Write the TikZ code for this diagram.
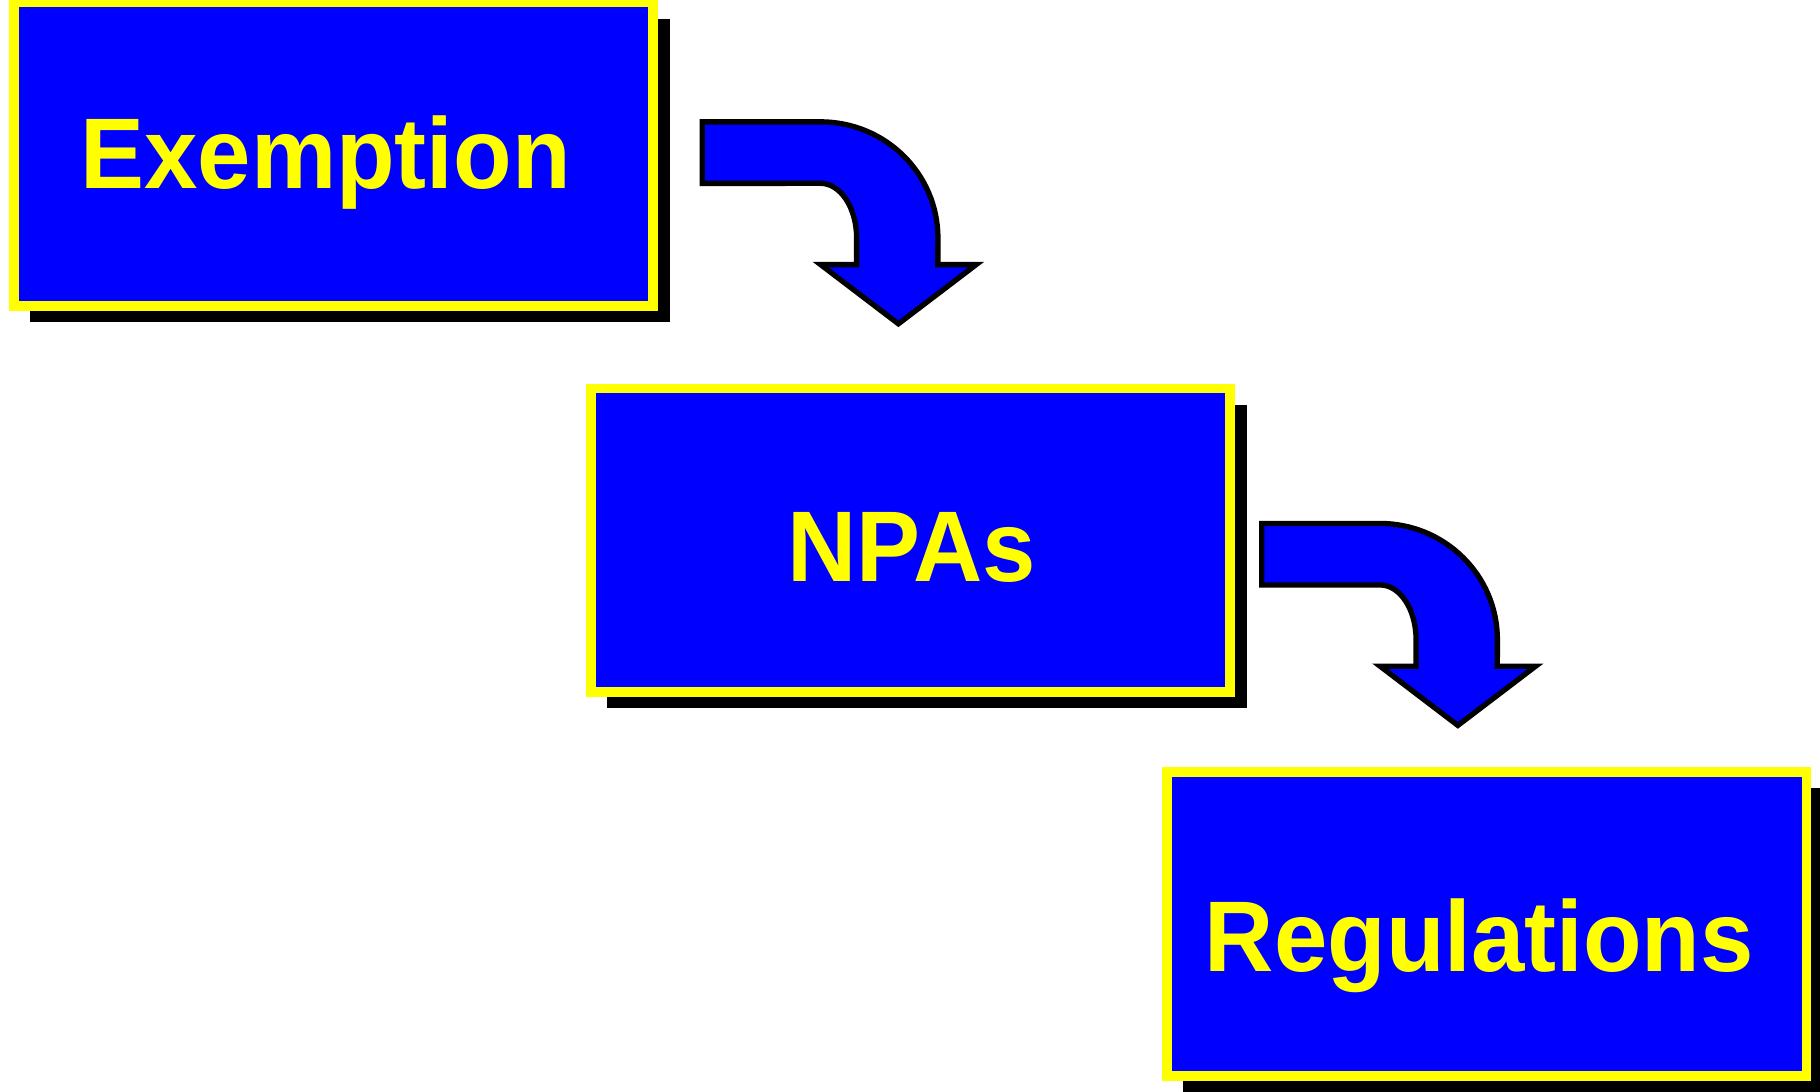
\documentclass[tikz,border=0pt]{standalone}
\usepackage{fontspec}
\setmainfont{Liberation Sans}
\usetikzlibrary{shadows}
\definecolor{boxblue}{RGB}{0,0,255}
\definecolor{boxyellow}{RGB}{255,255,0}
\begin{document}
\begin{tikzpicture}[x=0.01cm,y=0.01cm,
  box/.style={rectangle, draw=boxyellow, fill=boxblue, line width=0.085cm,
    minimum width=5.505cm, minimum height=2.615cm, inner sep=0pt,
    drop shadow={shadow xshift=0.14cm, shadow yshift=-0.14cm, fill=black, opacity=1}},
  lbl/.style={text=boxyellow, font=\fontsize{24.6}{29}\selectfont\bfseries, anchor=base,
    inner sep=0pt, xscale=0.955, transform shape},
  bent/.style={draw=black, fill=boxblue, line width=1.3pt, line join=miter}]
\useasboundingbox (0,0) rectangle (1568,940);
\clip (0,0) rectangle (1568,940);
% boxes
\node[box] (b1) at (287.5,807) {};
\node[box] (b2) at (784.5,474.5) {};
\node[box] (b3) at (1281,144) {};
% labels
\node[lbl] (t1) at (280.5,778) {Exemption};
\node[lbl] (t2) at (785.5,439) {NPAs};
\node[lbl] (t3) at (1274.5,103) {Regulations};
% bent arrows
\foreach \dx/\dy [count=\i] in {0/0, 482/-346} {
  \begin{scope}[shift={(\dx,\dy)}]
    \draw[bent] (605,835) -- (707,835)
      arc[start angle=90, end angle=0, x radius=1.01cm, y radius=1.00cm]
      -- (808,712) -- (841,712) -- (774,661) -- (707,712) -- (738,712) -- (738,735)
      arc[start angle=0, end angle=90, x radius=0.31cm, y radius=0.47cm]
      -- (605,782) -- cycle;
  \end{scope}
}
\end{tikzpicture}
\end{document}
